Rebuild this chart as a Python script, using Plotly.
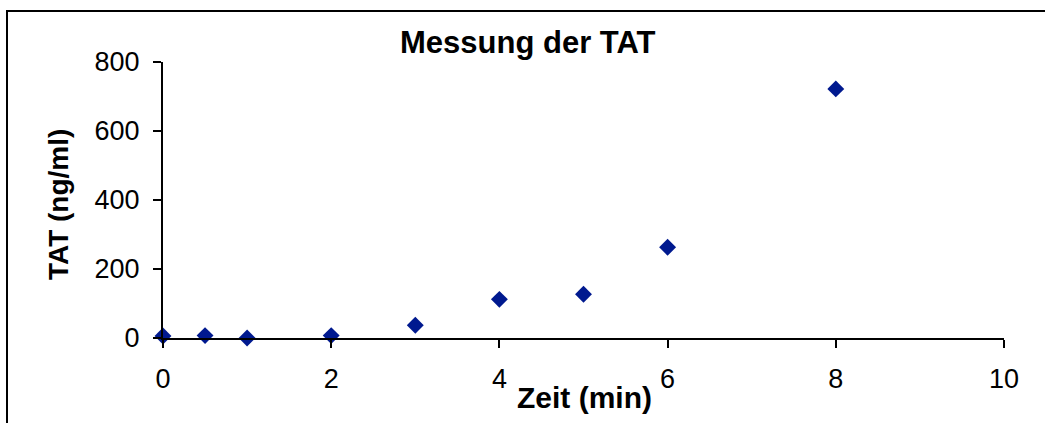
import plotly.graph_objects as go

# TAT measurement over time
zeit_min = [0, 0.5, 1, 2, 3, 4, 5, 6, 8]
tat_ng_ml = [6, 7, 0, 7, 37, 112, 127, 263, 722]

x_ticks = [0, 2, 4, 6, 8, 10]
y_ticks = [0, 200, 400, 600, 800]

FONT = "Arial, Liberation Sans, sans-serif"
W, H = 1045, 423
ML, MR, MT, MB = 163, 41, 62, 85
plot_w = W - ML - MR
plot_h = H - MT - MB

fig = go.Figure(
    go.Scatter(
        x=zeit_min,
        y=tat_ng_ml,
        mode="markers",
        marker=dict(symbol="diamond", size=13, color="#00198f", line=dict(width=0)),
        cliponaxis=False,
        showlegend=False,
    )
)

axis_common = dict(
    showgrid=False,
    zeroline=False,
    showline=True,
    linecolor="black",
    linewidth=2,
    ticks="outside",
    ticklen=8,
    tickwidth=2,
    tickcolor="black",
    tickfont=dict(family=FONT, size=27, color="black"),
)

fig.update_xaxes(
    range=[0, 10],
    tickvals=x_ticks,
    ticktext=[str(v) for v in x_ticks],
    ticklabelstandoff=8,
    **axis_common,
)
fig.update_yaxes(
    range=[0, 800],
    tickvals=y_ticks,
    ticktext=[str(v) for v in y_ticks],
    ticklabelstandoff=8,
    **axis_common,
)

def px_x(px):
    return (px - ML) / plot_w

def px_y(py):
    return (H - MB - py) / plot_h

annotations = [
    dict(text="<b>Messung der TAT</b>", x=px_x(527.5), y=px_y(42.5),
         xref="paper", yref="paper", showarrow=False,
         xanchor="center", yanchor="middle",
         font=dict(family=FONT, size=31, color="black")),
    dict(text="<b>Zeit (min)</b>", x=px_x(584), y=px_y(397),
         xref="paper", yref="paper", showarrow=False,
         xanchor="center", yanchor="middle",
         font=dict(family=FONT, size=30, color="black")),
    dict(text="<b>TAT (ng/ml)</b>", x=px_x(58), y=px_y(205),
         xref="paper", yref="paper", showarrow=False, textangle=-90,
         xanchor="center", yanchor="middle",
         font=dict(family=FONT, size=28, color="black")),
]

# Chart-area frame (extends beyond the visible window on the right and bottom)
shapes = [
    dict(type="rect", xref="paper", yref="paper",
         x0=px_x(7), x1=px_x(1100), y0=px_y(480), y1=px_y(11),
         line=dict(color="black", width=2), fillcolor="rgba(0,0,0,0)", layer="above"),
]

fig.update_layout(
    width=W,
    height=H,
    margin=dict(l=ML, r=MR, t=MT, b=MB, pad=0),
    paper_bgcolor="white",
    plot_bgcolor="white",
    annotations=annotations,
    shapes=shapes,
)

fig.write_html("out.html")
